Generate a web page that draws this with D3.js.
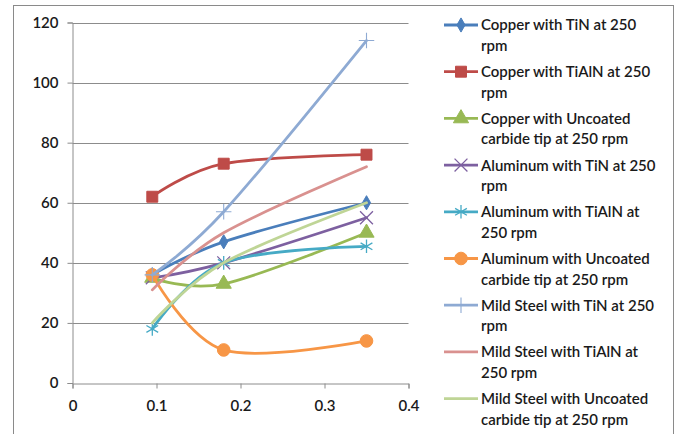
<!DOCTYPE html>
<html>
<head>
<meta charset="utf-8">
<script src="https://cdnjs.cloudflare.com/ajax/libs/d3/7.8.5/d3.min.js"></script>
<style>
  html, body { margin: 0; padding: 0; background: #fff; }
  svg { display: block; }
  text { font-family: Lato, "Open Sans", sans-serif; fill: #1a1a1a; }
</style>
</head>
<body>
<svg id="chart" width="678" height="434"></svg>
<script>
// Feed values (x) and measured values per series
const feeds = [0.095, 0.18, 0.35];

const seriesNames = [
  "Copper with TiN at 250 rpm",
  "Copper with TiAlN at 250 rpm",
  "Copper with Uncoated carbide tip at 250 rpm",
  "Aluminum with TiN at 250 rpm",
  "Aluminum with TiAlN at 250 rpm",
  "Aluminum with Uncoated carbide tip at 250 rpm",
  "Mild Steel with TiN at 250 rpm",
  "Mild Steel with TiAlN at 250 rpm",
  "Mild Steel with Uncoated carbide tip at 250 rpm"
];

// Legend text split across two lines, as wrapped in the legend box
const legendLines = [
  ["Copper with TiN at 250", "rpm"],
  ["Copper with TiAlN at 250", "rpm"],
  ["Copper with Uncoated", "carbide tip at 250 rpm"],
  ["Aluminum with TiN at 250", "rpm"],
  ["Aluminum with TiAlN at", "250 rpm"],
  ["Aluminum with Uncoated", "carbide tip at 250 rpm"],
  ["Mild Steel with TiN at 250", "rpm"],
  ["Mild Steel with TiAlN at", "250 rpm"],
  ["Mild Steel with Uncoated", "carbide tip at 250 rpm"]
];

const copperTiN        = [36, 47, 60];
const copperTiAlN      = [62, 73, 76];
const copperUncoated   = [35, 33, 50];
const aluminumTiN      = [35, 40, 55];
const aluminumTiAlN    = [18, 40, 45.5];
const aluminumUncoated = [36, 11, 14];
const steelTiN         = [36, 57, 114];
const steelTiAlN       = [31, 50, 72];
const steelUncoated    = [20, 40, 60];

const seriesValues = [copperTiN, copperTiAlN, copperUncoated, aluminumTiN, aluminumTiAlN,
                      aluminumUncoated, steelTiN, steelTiAlN, steelUncoated];

const xTicks = [0, 0.1, 0.2, 0.3, 0.4];
const yTicks = [0, 20, 40, 60, 80, 100, 120];

const colors = ["#4a7ebb", "#be4b48", "#98b954", "#7d60a0", "#46aac5",
                "#f79646", "#8eaad3", "#d9918f", "#bfd596"];
const markers = ["diamond", "square", "triangle", "x", "asterisk", "circle", "plus", null, null];

const svg = d3.select("#chart");

// chart frame
svg.append("rect")
  .attr("x", 13.5).attr("y", 5.5)
  .attr("width", 660).attr("height", 440)
  .attr("fill", "none").attr("stroke", "#8a8a8a").attr("stroke-width", 1);

const plot = { left: 72.5, right: 408.5, top: 22.5, bottom: 383 };

const x = d3.scaleLinear().domain([0, 0.4]).range([plot.left, plot.right]);
const y = d3.scaleLinear().domain([0, 120]).range([plot.bottom, plot.top]);

// horizontal gridlines
svg.append("g")
  .selectAll("line")
  .data(yTicks.filter(d => d > 0))
  .join("line")
  .attr("x1", plot.left).attr("x2", plot.right)
  .attr("y1", d => Math.round(y(d)) + 0.5).attr("y2", d => Math.round(y(d)) + 0.5)
  .attr("stroke", "#8c8c8c").attr("stroke-width", 1);

// axes
const yAxis = d3.axisLeft(y).tickValues(yTicks).tickSize(5).tickPadding(9)
  .tickFormat(d3.format("d"));
const xAxis = d3.axisBottom(x).tickValues(xTicks).tickSize(5).tickPadding(12)
  .tickFormat(d => d === 0 ? "0" : d3.format(".1f")(d));

const gy = svg.append("g").attr("transform", `translate(${plot.left},0)`).call(yAxis);
const gx = svg.append("g").attr("transform", `translate(0,${Math.round(plot.bottom) + 0.5})`).call(xAxis);

[gx, gy].forEach(g => {
  g.select(".domain").attr("stroke", "#8c8c8c");
  g.selectAll(".tick line").attr("stroke", "#8c8c8c");
  g.selectAll(".tick text")
    .attr("fill", "#1a1a1a")
    .style("font-family", "Lato, sans-serif")
    .style("font-size", "15px")
    .style("font-weight", "600");
});

// marker drawing
function drawMarker(g, type, color) {
  const s = d3.symbol();
  switch (type) {
    case "diamond":
      g.append("path").attr("d", s.type(d3.symbolDiamond).size(58)()).attr("fill", color).attr("stroke", color);
      break;
    case "square":
      g.append("path").attr("d", s.type(d3.symbolSquare).size(120)()).attr("fill", color).attr("stroke", color);
      break;
    case "triangle":
      g.append("path").attr("d", s.type(d3.symbolTriangle).size(100)()).attr("fill", color).attr("stroke", color);
      break;
    case "x":
      g.append("path").attr("d", s.type(d3.symbolX).size(110)()).attr("fill", "none").attr("stroke", color).attr("stroke-width", 1.3);
      break;
    case "asterisk":
      g.append("path").attr("d", s.type(d3.symbolAsterisk).size(130)()).attr("fill", "none").attr("stroke", color).attr("stroke-width", 1.3);
      break;
    case "circle":
      g.append("path").attr("d", s.type(d3.symbolCircle).size(125)()).attr("fill", color).attr("stroke", color);
      break;
    case "plus":
      g.append("path").attr("d", s.type(d3.symbolPlus).size(80)()).attr("fill", "none").attr("stroke", color).attr("stroke-width", 1.1);
      break;
  }
}

const line = d3.line()
  .x((d, i) => x(feeds[i]))
  .y(d => y(d))
  .curve(d3.curveCatmullRom.alpha(0));

const seriesG = svg.append("g");
seriesValues.forEach((vals, si) => {
  const g = seriesG.append("g");
  g.append("path")
    .attr("d", line(vals))
    .attr("fill", "none")
    .attr("stroke", colors[si])
    .attr("stroke-width", 2.8)
    .attr("stroke-linecap", "round");
  if (markers[si]) {
    vals.forEach((v, i) => {
      const m = g.append("g").attr("transform", `translate(${x(feeds[i])},${y(v)})`);
      drawMarker(m, markers[si], colors[si]);
    });
  }
});

// legend
const legend = svg.append("g");
const legendTop = 25, entryGap = 46.7, lineGap = 20.6;
seriesNames.forEach((name, si) => {
  const cy = legendTop + si * entryGap;
  const g = legend.append("g");
  g.append("line")
    .attr("x1", 444).attr("x2", 478)
    .attr("y1", cy).attr("y2", cy)
    .attr("stroke", colors[si]).attr("stroke-width", 2.8);
  if (markers[si]) {
    const m = g.append("g").attr("transform", `translate(461,${cy})`);
    drawMarker(m, markers[si], colors[si]);
  }
  legendLines[si].forEach((t, li) => {
    g.append("text")
      .attr("x", 481)
      .attr("y", cy + li * lineGap)
      .attr("dy", "0.36em")
      .style("font-size", "15px")
      .style("font-weight", "600")
      .text(t);
  });
});
</script>
</body>
</html>
